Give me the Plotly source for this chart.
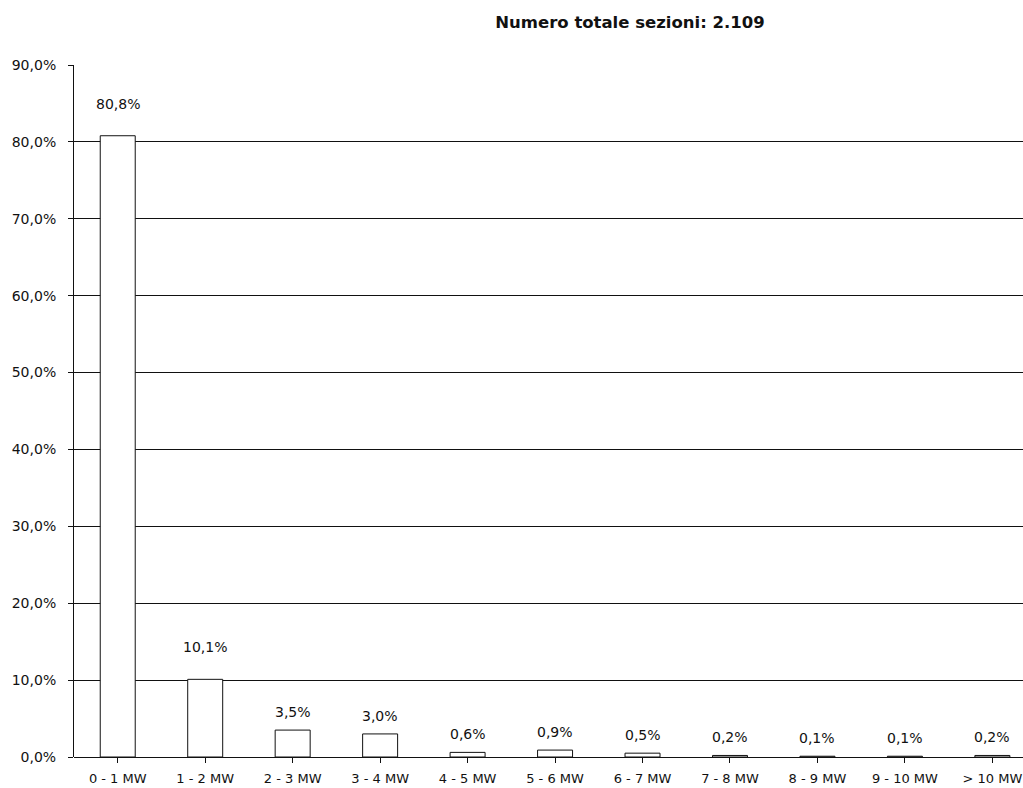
import plotly.graph_objects as go

categories = ["0 - 1 MW", "1 - 2 MW", "2 - 3 MW", "3 - 4 MW", "4 - 5 MW", "5 - 6 MW",
              "6 - 7 MW", "7 - 8 MW", "8 - 9 MW", "9 - 10 MW", "> 10 MW"]
values = [80.8, 10.1, 3.5, 3.0, 0.6, 0.9, 0.5, 0.2, 0.1, 0.1, 0.2]
labels = ["80,8%", "10,1%", "3,5%", "3,0%", "0,6%", "0,9%", "0,5%", "0,2%", "0,1%", "0,1%", "0,2%"]
y_ticks = [0, 10, 20, 30, 40, 50, 60, 70, 80, 90]
y_ticktext = ["0,0%", "10,0%", "20,0%", "30,0%", "40,0%", "50,0%", "60,0%", "70,0%", "80,0%", "90,0%"]
title_text = "Numero totale sezioni: 2.109"

FONT = "DejaVu Sans, Verdana, sans-serif"
INK = "#111111"

fig = go.Figure()
fig.add_trace(go.Bar(
    x=list(range(len(categories))), y=values,
    width=0.4,
    marker=dict(color="white", line=dict(color=INK, width=1)),
    hoverinfo="skip",
))

for i, (v, t) in enumerate(zip(values, labels)):
    fig.add_annotation(x=i, y=v, text=t, showarrow=False, yanchor="bottom",
                       yshift=(8 if v < 5 else 22),
                       font=dict(family=FONT, size=14, color=INK))

fig.update_layout(
    width=1023, height=788,
    margin=dict(l=74, r=0, t=65, b=31),
    paper_bgcolor="white", plot_bgcolor="white",
    showlegend=False,
    title=dict(text="<b>" + title_text + "</b>", xref="container", yref="container",
               x=630 / 1023, xanchor="center", y=1 - 22 / 788, yanchor="middle",
               font=dict(family=FONT, size=16.5, color=INK)),
    xaxis=dict(
        range=[-0.5, 10.35],
        tickvals=list(range(len(categories))), ticktext=categories,
        tickson="boundaries", ticks="outside", ticklen=5, tickcolor=INK,
        ticklabelstandoff=4, ticklabeloverflow="allow",
        showline=False, showgrid=False, zeroline=False,
        tickfont=dict(family=FONT, size=13, color=INK),
    ),
    yaxis=dict(
        range=[0, 90],
        tickvals=y_ticks, ticktext=y_ticktext,
        ticks="outside", ticklen=5, tickcolor=INK,
        ticklabelstandoff=9,
        showline=True, linecolor=INK, linewidth=1,
        showgrid=True, gridcolor=INK, gridwidth=1,
        zeroline=True, zerolinecolor=INK, zerolinewidth=1,
        tickfont=dict(family=FONT, size=14, color=INK),
    ),
)

fig.write_html("out.html", config={"displayModeBar": False},
               post_script="document.body.style.margin='0';")
